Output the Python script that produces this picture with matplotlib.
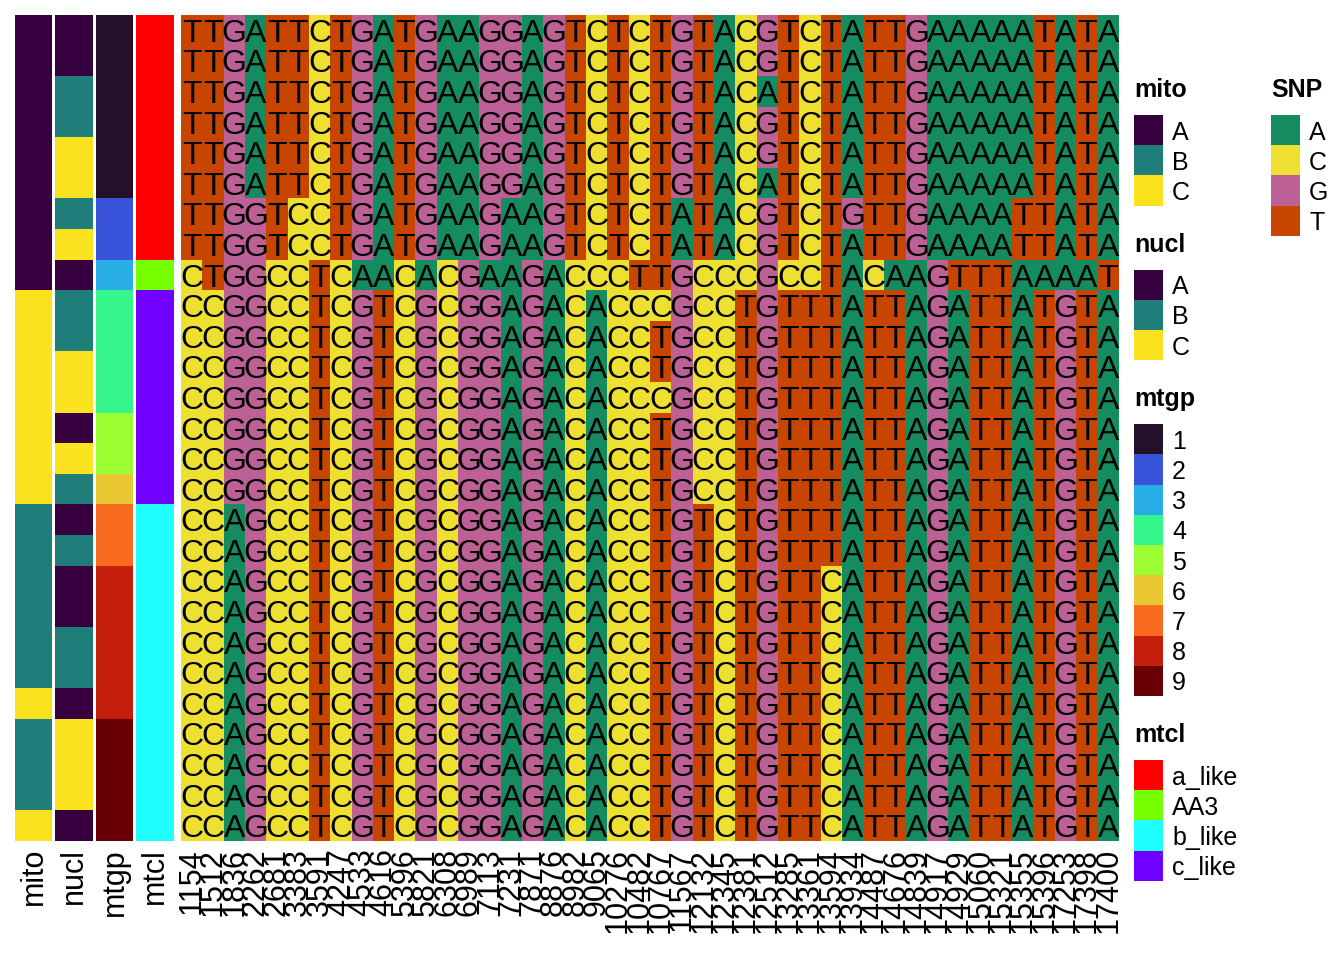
import numpy as np
import matplotlib
matplotlib.use('Agg')
import matplotlib.pyplot as plt
from matplotlib.colors import ListedColormap
from matplotlib.patches import Rectangle

plt.rcParams['font.family'] = ['Liberation Sans', 'DejaVu Sans']

# ---- data ----
snp_rows = [
    "TTGATTCTGATGAAGGAGTCTCTGTACGTCTATTGAAAAATATA",
    "TTGATTCTGATGAAGGAGTCTCTGTACGTCTATTGAAAAATATA",
    "TTGATTCTGATGAAGGAGTCTCTGTACATCTATTGAAAAATATA",
    "TTGATTCTGATGAAGGAGTCTCTGTACGTCTATTGAAAAATATA",
    "TTGATTCTGATGAAGGAGTCTCTGTACGTCTATTGAAAAATATA",
    "TTGATTCTGATGAAGGAGTCTCTGTACATCTATTGAAAAATATA",
    "TTGGTCCTGATGAAGAAGTCTCTATACGTCTGTTGAAAATTATA",
    "TTGGTCCTGATGAAGAAGTCTCTATACGTCTATTGAAAATTATA",
    "CTGGCCTCAACACGAAGACCCTTGCCCGCCTACAAGTTTAAAAT",
    "CCGGCCTCGTCGCGGAGACACCCGCCTGTTTATTAGATTATGTA",
    "CCGGCCTCGTCGCGGAGACACCTGCCTGTTTATTAGATTATGTA",
    "CCGGCCTCGTCGCGGAGACACCTGCCTGTTTATTAGATTATGTA",
    "CCGGCCTCGTCGCGGAGACACCCGCCTGTTTATTAGATTATGTA",
    "CCGGCCTCGTCGCGGAGACACCTGCCTGTTTATTAGATTATGTA",
    "CCGGCCTCGTCGCGGAGACACCTGCCTGTTTATTAGATTATGTA",
    "CCGGCCTCGTCGCGGAGACACCTGCCTGTTTATTAGATTATGTA",
    "CCAGCCTCGTCGCGGAGACACCTGTCTGTTTATTAGATTATGTA",
    "CCAGCCTCGTCGCGGAGACACCTGTCTGTTTATTAGATTATGTA",
    "CCAGCCTCGTCGCGGAGACACCTGTCTGTTCATTAGATTATGTA",
    "CCAGCCTCGTCGCGGAGACACCTGTCTGTTCATTAGATTATGTA",
    "CCAGCCTCGTCGCGGAGACACCTGTCTGTTCATTAGATTATGTA",
    "CCAGCCTCGTCGCGGAGACACCTGTCTGTTCATTAGATTATGTA",
    "CCAGCCTCGTCGCGGAGACACCTGTCTGTTCATTAGATTATGTA",
    "CCAGCCTCGTCGCGGAGACACCTGTCTGTTCATTAGATTATGTA",
    "CCAGCCTCGTCGCGGAGACACCTGTCTGTTCATTAGATTATGTA",
    "CCAGCCTCGTCGCGGAGACACCTGTCTGTTCATTAGATTATGTA",
    "CCAGCCTCGTCGCGGAGACACCTGTCTGTTCATTAGATTATGTA",
]

positions = ["1154", "1512", "1836", "2262", "2681", "3383", "3591", "4247",
             "4533", "4616", "5396", "5821", "6308", "6989", "7113", "7231",
             "7871", "8876", "8982", "9065", "10276", "10482", "10767", "11567",
             "12132", "12345", "12381", "12512", "13285", "13361", "13594",
             "13934", "14487", "14676", "14839", "14917", "14929", "15060",
             "15321", "15355", "15396", "17253", "17398", "17400"]

mito = list("AAAAAAAAA" "CCCCCCC" "BBBBBB" "C" "BBB" "C")
nucl = list("AABBCCBCA" "BBCCACB" "ABAABBACCCA")
mtgp = list("111111223" "4444556" "77888889999")
mtcl = ["a_like"] * 8 + ["AA3"] + ["c_like"] * 7 + ["b_like"] * 11

snp_levels = ["A", "C", "G", "T"]
snp_colors = ["#148C5F", "#EDE031", "#BD6096", "#C84500"]
abc_levels = ["A", "B", "C"]
abc_colors = ["#37003F", "#1F7E7A", "#FBE21E"]
mtgp_levels = ["1", "2", "3", "4", "5", "6", "7", "8", "9"]
mtgp_colors = ["#251029", "#3953DA", "#28ADE6", "#36F58A", "#9CFD33",
               "#E8C733", "#F96C1F", "#C41F0C", "#690006"]
mtcl_levels = ["a_like", "AA3", "b_like", "c_like"]
mtcl_colors = ["#FF0000", "#76FF00", "#1FFFFF", "#7000FF"]

W, H = 1344, 960
FS = 22


def px_rect(x0, x1, y0, y1):
    return [x0 / W, 1 - y1 / H, (x1 - x0) / W, (y1 - y0) / H]


fig = plt.figure(figsize=(W / 100, H / 100), dpi=100)

# ---- main heatmap ----
grid = np.array([[snp_levels.index(c) for c in row] for row in snp_rows])
ax = fig.add_axes(px_rect(181, 1119, 15, 841))
ax.imshow(grid, cmap=ListedColormap(snp_colors), vmin=-0.5, vmax=3.5,
          aspect='auto', interpolation='nearest')
for i, row in enumerate(snp_rows):
    for j, ch in enumerate(row):
        ax.text(j, i, ch, ha='center', va='center_baseline', fontsize=23, color='black')
ax.set_xticks(range(len(positions)))
ax.set_xticklabels(positions, rotation=90, fontsize=FS, va='top', ha='center')
ax.set_yticks([])
ax.tick_params(length=0, pad=5)
for s in ax.spines.values():
    s.set_visible(False)

# ---- row annotations ----
annos = [("mito", mito, abc_levels, abc_colors, 15, 52),
         ("nucl", nucl, abc_levels, abc_colors, 55, 93),
         ("mtgp", mtgp, mtgp_levels, mtgp_colors, 96, 133),
         ("mtcl", mtcl, mtcl_levels, mtcl_colors, 136, 174)]
for name, vals, levels, cols, x0, x1 in annos:
    a = fig.add_axes(px_rect(x0, x1, 15, 841))
    codes = np.array([[levels.index(v)] for v in vals])
    a.imshow(codes, cmap=ListedColormap(cols), vmin=-0.5, vmax=len(levels) - 0.5,
             aspect='auto', interpolation='nearest')
    a.set_xticks([0])
    a.set_xticklabels([name], rotation=90, fontsize=FS, va='top', ha='center')
    a.set_yticks([])
    a.tick_params(length=0, pad=5)
    for s in a.spines.values():
        s.set_visible(False)

# ---- legends ----
lax = fig.add_axes([0, 0, 1, 1])
lax.set_xlim(0, W)
lax.set_ylim(H, 0)
lax.axis('off')
lax.patch.set_visible(False)

cell_w, cell_h, gap = 29, 30.2, 64


def draw_legend(title, levels, cols, x, y0):
    lax.text(x, y0 - 25, title, fontsize=18, fontweight='bold', va='center', ha='left')
    for k, (lv, c) in enumerate(zip(levels, cols)):
        y = y0 + k * cell_h
        lax.add_patch(Rectangle((x, y), cell_w, cell_h, facecolor=c, edgecolor='none'))
        lax.text(x + cell_w + 9, y + cell_h / 2, lv, fontsize=18, va='center_baseline', ha='left')
    return y0 + len(levels) * cell_h + gap


y = 115
y = draw_legend("mito", abc_levels, abc_colors, 1134, y)
y = draw_legend("nucl", abc_levels, abc_colors, 1134, y)
y = draw_legend("mtgp", mtgp_levels, mtgp_colors, 1134, y)
y = draw_legend("mtcl", mtcl_levels, mtcl_colors, 1134, y)
draw_legend("SNP", snp_levels, snp_colors, 1271, 115)

fig.savefig("out.png", dpi=100)
plt.close(fig)
